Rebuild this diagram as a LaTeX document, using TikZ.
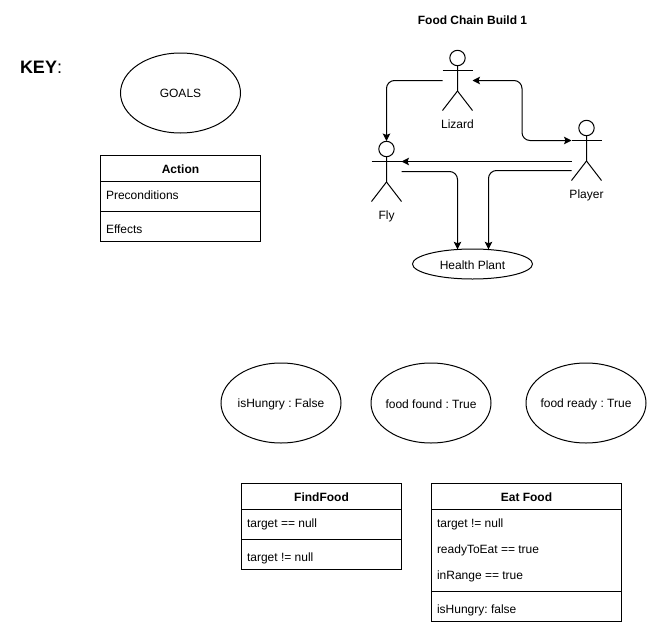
\documentclass[tikz,border=0pt]{standalone}
\usepackage{fontspec}
\setmainfont{Liberation Sans}
\frenchspacing
\usetikzlibrary{arrows.meta,shapes.geometric,calc}
\tikzset{
  every node/.style={font=\fontsize{12}{14}\selectfont, inner sep=0pt, outer sep=0pt},
  shapeline/.style={draw=black, line width=1pt},
  goal/.style={shapeline, ellipse, minimum width=120pt, minimum height=80pt, label={[yshift=-1.4pt]center:#1}},
  keygoal/.style={shapeline, ellipse, minimum width=120pt, minimum height=80pt, label={[yshift=-0.2pt]center:#1}},
  plant/.style={shapeline, ellipse, minimum width=120pt, minimum height=30pt, label={[yshift=-1.2pt]center:#1}},
  actorbox/.style={minimum width=30pt, minimum height=60pt},
  conn/.style={line width=1pt, rounded corners=8pt, -{Stealth[length=7.5pt,width=7.5pt,inset=1.5pt]}},
  connboth/.style={line width=1pt, rounded corners=8pt, {Stealth[length=7.5pt,width=7.5pt,inset=1.5pt]}-{Stealth[length=7.5pt,width=7.5pt,inset=1.5pt]}},
  boxtitle/.style={font=\fontsize{12}{14}\selectfont\bfseries, anchor=center},
  boxitem/.style={anchor=west},
}
\newcommand{\stickman}[5]{%
  \node[actorbox] (#1) at (#2,#3) {};
  \draw[shapeline] (#2,#3-22.5) circle (7.7pt);
  \draw[shapeline] (#2,#3-15) -- (#2,#3+10.5) -- (#2-15,#3+30);
  \draw[shapeline] (#2,#3+10.5) -- (#2+15,#3+30);
  \draw[shapeline] (#2-15,#3-10) -- (#2+15,#3-10);
  \node (#1label) at (#2,#5) {#4};
}
\newcommand{\actionbox}[8]{% name, x1, y1, x2, y2, line1, line2, title
  \node[shapeline, minimum width=#4pt-#2pt, minimum height=#5pt-#3pt, anchor=north west] (#1) at (#2,#3) {};
  \draw[shapeline] (#2,#6) -- (#4,#6);
  \draw[shapeline] (#2,#7) -- (#4,#7);
  \node[boxtitle] (#1title) at ({(#2+#4)/2},{(#3+#6)/2+1}) {#8};
}
\begin{document}
\begin{tikzpicture}[x=1pt,y=-1pt]
\useasboundingbox (0,0) rectangle (657,635);
% title and key
\node (title) at (472.5,20) {\bfseries Food Chain Build 1};
\node[anchor=west, font=\fontsize{18}{20}\selectfont] (key) at (20,67.5) {\textbf{KEY}:};
\node[keygoal={GOALS}] (goals) at (180.5,93) {};
% key action
\actionbox{action}{100.5}{155.5}{260.5}{241.5}{181.5}{211.5}{Action}
\node[boxitem] (pre) at (106,195) {Preconditions};
\node[boxitem] (eff) at (106,229) {Effects};
% actors
\stickman{lizard}{457.5}{80.5}{Lizard}{124.3}
\stickman{player}{586.5}{150.5}{Player}{195.3}
\stickman{fly}{386.5}{171.5}{Fly}{216.3}
\node[plant={Health Plant}] (plantnode) at (472.5,264) {};
% connector ports
\coordinate (flyhead) at (386.5,141);
\coordinate (playerarm) at (571.5,140.5);
\coordinate (playerfly) at (571.5,161.5);
\coordinate (flyin) at (401.5,161.5);
\coordinate (flyout) at (401.5,171.5);
\coordinate (playerout) at (571.5,170.5);
\coordinate (plantl) at (457.5,249.3);
\coordinate (plantr) at (488.5,249.3);
\draw[conn] (lizard.west) -| (flyhead);
\draw[connboth] (lizard.east) -- (522,80.5) -- (522,140.5) -- (playerarm);
\draw[conn] (playerfly) -- (flyin);
\draw[conn] (flyout) -| (plantl);
\draw[conn] (playerout) -| (plantr);
% goals
\node[goal={isHungry : False}] (hungry) at (281,403) {};
\node[goal={food found : True}] (found) at (431,403) {};
\node[goal={food ready : True}] (ready) at (586,403) {};
% actions
\actionbox{find}{241.5}{483.5}{401.5}{569.5}{509.5}{539.5}{FindFood}
\node[boxitem] (f1) at (247,524.4) {target == null};
\node[boxitem] (f2) at (247,558.4) {target != null};
\actionbox{eat}{431.5}{483.5}{621.5}{621.5}{509.5}{591.5}{Eat Food}
\node[boxitem] (e1) at (437,524.4) {target != null};
\node[boxitem] (e2) at (437,550.4) {readyToEat == true};
\node[boxitem] (e3) at (437,576.4) {inRange == true};
\node[boxitem] (e4) at (437,610.4) {isHungry: false};
\end{tikzpicture}
\end{document}
